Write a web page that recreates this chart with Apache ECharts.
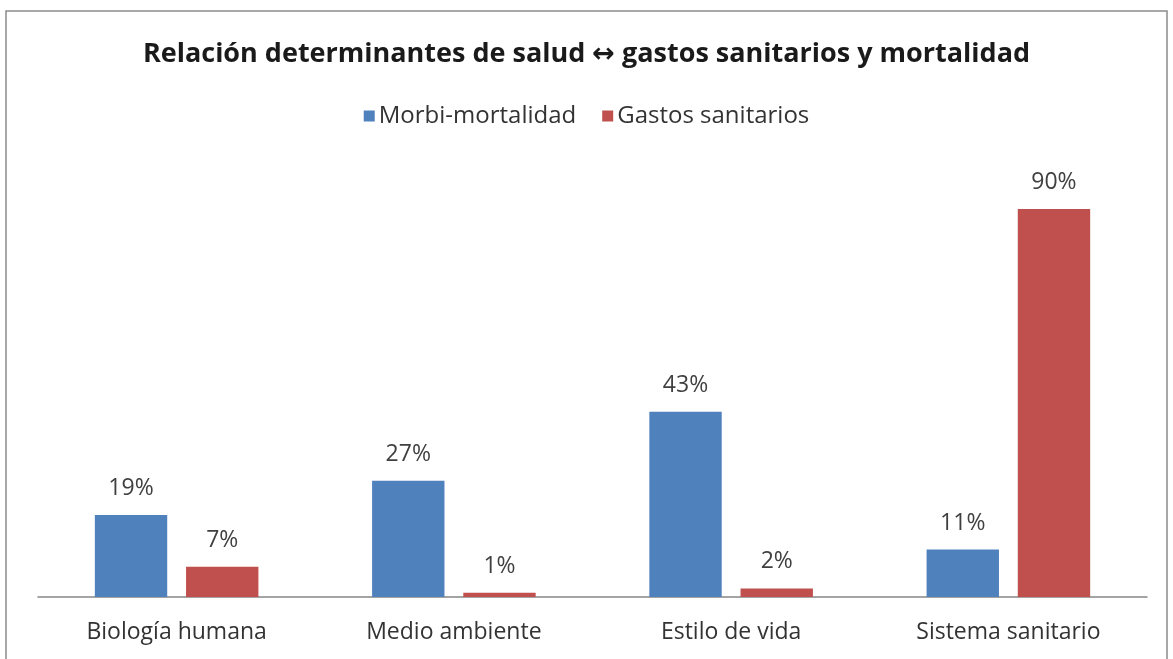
<!DOCTYPE html>
<html>
<head>
<meta charset="utf-8">
<script src="https://cdn.jsdelivr.net/npm/echarts@6/dist/echarts.min.js"></script>
<style>
  html, body { margin: 0; padding: 0; background: #fff; }
  #chart { width: 1173px; height: 659px; }
</style>
</head>
<body>
<div id="chart"></div>
<script>
// Health determinants vs. morbidity/mortality and health spending
const categories = ['Biología humana', 'Medio ambiente', 'Estilo de vida', 'Sistema sanitario'];
const morbiMortalidad = [19, 27, 43, 11];
const gastosSanitarios = [7, 1, 2, 90];
const seriesNames = ['Morbi-mortalidad', 'Gastos sanitarios'];
const titleText = 'Relación determinantes de salud ↔ gastos sanitarios y mortalidad';

const FONT = '"Open Sans", "DejaVu Sans", sans-serif';
const labelStyle = {
  show: true,
  position: 'top',
  distance: 15,
  formatter: p => p.value + '%',
  color: '#404040',
  fontFamily: FONT,
  fontSize: 23
};

const chart = echarts.init(document.getElementById('chart'), null, { renderer: 'canvas' });
chart.setOption({
  animation: false,
  backgroundColor: '#ffffff',
  graphic: [{
    type: 'rect',
    shape: { x: 6, y: 11, width: 1161, height: 660 },
    style: { fill: 'none', stroke: '#8c8c8c', lineWidth: 1.5 },
    silent: true,
    z: -1
  }],
  title: {
    text: titleText,
    left: 'center',
    top: 36,
    textStyle: {
      fontFamily: FONT,
      fontWeight: 'bold',
      fontSize: 27,
      color: '#1a1a1a'
    }
  },
  legend: {
    data: seriesNames,
    top: 99,
    left: 'center',
    icon: 'rect',
    itemWidth: 11,
    itemHeight: 11,
    itemGap: 26,
    textStyle: { fontFamily: FONT, fontSize: 24, color: '#333333', padding: [0, 0, 0, -1] }
  },
  grid: { left: 38, right: 26, top: 166, bottom: 62, containLabel: false },
  xAxis: {
    type: 'category',
    data: categories,
    axisLine: { show: true, lineStyle: { color: '#868686', width: 1.5 } },
    axisTick: { show: false },
    axisLabel: { color: '#333333', fontFamily: FONT, fontSize: 23, margin: 24 }
  },
  yAxis: {
    type: 'value',
    min: 0,
    max: 100,
    show: false,
    splitLine: { show: false }
  },
  series: [
    {
      name: seriesNames[0],
      type: 'bar',
      data: morbiMortalidad,
      itemStyle: { color: '#4F81BD' },
      barGap: '26%',
      barCategoryGap: '41%',
      label: labelStyle
    },
    {
      name: seriesNames[1],
      type: 'bar',
      data: gastosSanitarios,
      itemStyle: { color: '#C0504D' },
      label: labelStyle
    }
  ]
});
</script>
</body>
</html>
